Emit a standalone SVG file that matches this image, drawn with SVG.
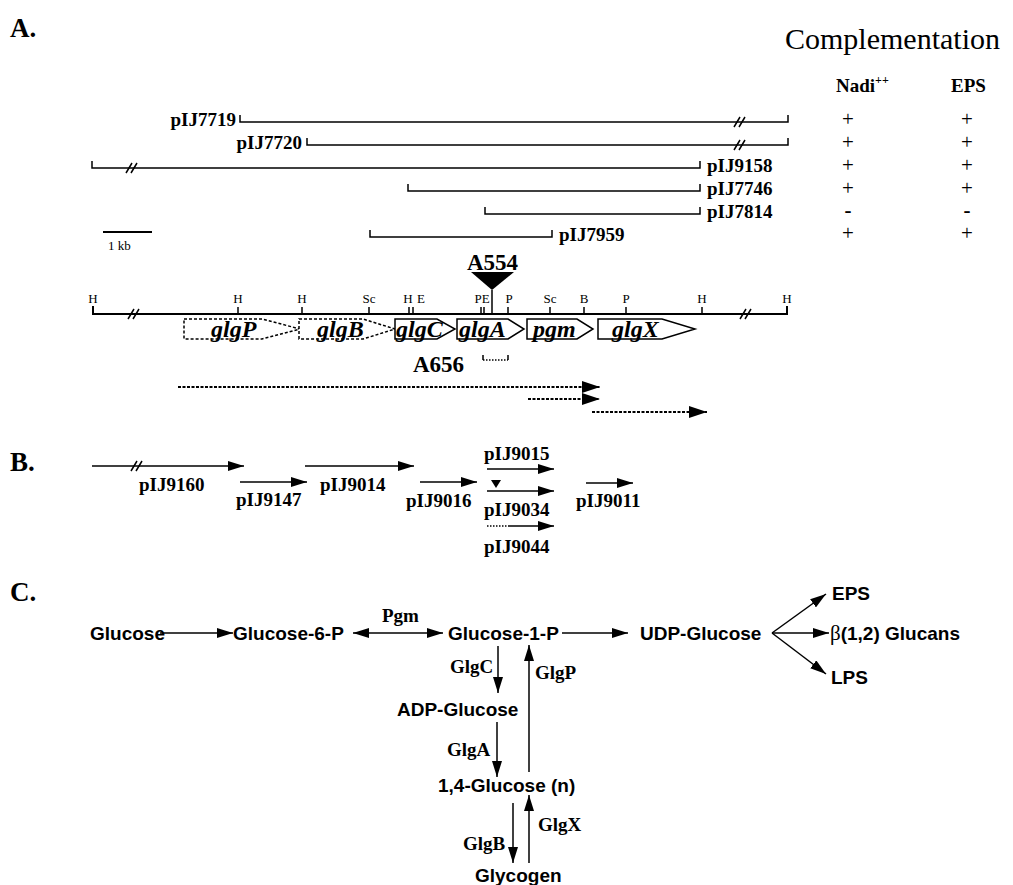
<svg xmlns="http://www.w3.org/2000/svg" width="1013" height="885" viewBox="0 0 1013 885">
<style>
text{fill:#000}
.sec{font-family:"Liberation Serif",serif;font-weight:bold;font-size:27px}
.lbl{font-family:"Liberation Serif",serif;font-weight:bold;font-size:19px}
.site{font-family:"Liberation Serif",serif;font-size:13px}
.gene{font-family:"Liberation Serif",serif;font-weight:bold;font-style:italic;font-size:24px}
.big{font-family:"Liberation Serif",serif;font-weight:bold;font-size:23px}
.pm{font-family:"Liberation Serif",serif;font-size:21px;text-anchor:middle}
.met{font-family:"Liberation Sans",sans-serif;font-weight:bold;font-size:19px}
.ln{stroke:#000;stroke-width:1.5;fill:none}
.map{stroke:#000;stroke-width:2;fill:none}
.dot{stroke:#000;stroke-width:2;fill:none;stroke-dasharray:3 1.5}
.gs{stroke:#000;stroke-width:1.5;fill:#fff}
.gd{stroke:#000;stroke-width:1.5;fill:#fff;stroke-dasharray:3 2}
</style>
<defs>
<marker id="a" viewBox="0 0 16 10" refX="16" refY="5" markerWidth="16" markerHeight="10" orient="auto-start-reverse" markerUnits="userSpaceOnUse"><path d="M0,0 L16,5 L0,10 z" fill="#000"/></marker>
<marker id="aL" viewBox="0 0 18 12" refX="18" refY="6" markerWidth="18" markerHeight="12" orient="auto" markerUnits="userSpaceOnUse"><path d="M0,0 L18,6 L0,12 z" fill="#000"/></marker>
</defs>

<g id="panelA-labels">
<text class="sec" x="10" y="37">A.</text>
<text x="785" y="49" style="font-family:'Liberation Serif',serif;font-size:30px">Complementation</text>
<text class="lbl" x="836" y="92">Nadi<tspan dy="-8" style="font-size:12px">++</tspan></text>
<text class="lbl" x="951" y="92">EPS</text>
</g>

<g id="plasmids-A">
<g id="pIJ7719"><path class="ln" d="M240,115 V122 H788 V115"/><path class="ln" d="M734,127 L740,117 M739,127 L745,117"/><text class="lbl" x="236" y="126" text-anchor="end">pIJ7719</text><text class="pm" x="848" y="126">+</text><text class="pm" x="967" y="126">+</text></g>
<g id="pIJ7720"><path class="ln" d="M307,138 V145 H788 V138"/><path class="ln" d="M734,150 L740,140 M739,150 L745,140"/><text class="lbl" x="302" y="149" text-anchor="end">pIJ7720</text><text class="pm" x="848" y="149">+</text><text class="pm" x="967" y="149">+</text></g>
<g id="pIJ9158"><path class="ln" d="M92,161 V168 H700 V161"/><path class="ln" d="M126,173 L132,163 M131,173 L137,163"/><text class="lbl" x="707" y="172">pIJ9158</text><text class="pm" x="848" y="172">+</text><text class="pm" x="967" y="172">+</text></g>
<g id="pIJ7746"><path class="ln" d="M408,184 V191 H700 V184"/><text class="lbl" x="707" y="195">pIJ7746</text><text class="pm" x="848" y="195">+</text><text class="pm" x="967" y="195">+</text></g>
<g id="pIJ7814"><path class="ln" d="M485,207 V214 H700 V207"/><text class="lbl" x="707" y="218">pIJ7814</text><text class="pm" x="848" y="217" style="font-weight:bold">-</text><text class="pm" x="967" y="217" style="font-weight:bold">-</text></g>
<g id="pIJ7959"><path class="ln" d="M370,230 V237 H552 V230"/><text class="lbl" x="559" y="241">pIJ7959</text><text class="pm" x="848" y="240">+</text><text class="pm" x="967" y="240">+</text></g>
<g id="scalebar"><path class="map" d="M103,232 H152"/><text class="site" x="108" y="250">1 kb</text></g>
</g>

<g id="map">
<g id="A554"><text class="big" x="467" y="270">A554</text><polygon points="471,272 514,272 492,290" fill="#000"/><path class="ln" d="M492,290 V314"/></g>
<path class="map" d="M93,306 V314 H787 V306"/>
<path class="ln" d="M128,319 L134,309 M133,319 L139,309 M740,319 L746,309 M745,319 L751,309"/>
<path class="ln" d="M238,307 V314 M302,307 V314 M369,307 V314 M409,307 V314 M413,307 V314 M481,307 V314 M484,307 V314 M508,307 V314 M550,307 V314 M584,307 V314 M626,307 V314 M702,307 V314"/>
<g class="site" text-anchor="middle">
<text x="93" y="303">H</text><text x="238" y="303">H</text><text x="302" y="303">H</text><text x="369" y="303">Sc</text><text x="408" y="303">H</text><text x="421" y="303">E</text><text x="482" y="303">PE</text><text x="509" y="303">P</text><text x="550" y="303">Sc</text><text x="584" y="303">B</text><text x="626" y="303">P</text><text x="702" y="303">H</text><text x="787" y="303">H</text>
</g>
</g>

<g id="genes">
<g id="glgP"><polygon class="gd" points="184,319 262,319 300,329 262,339 184,339"/><text class="gene" x="211" y="337">glgP</text></g>
<g id="glgB"><polygon class="gd" points="299,319 363,319 395,329 363,339 299,339"/><text class="gene" x="317" y="337">glgB</text></g>
<g id="glgC"><polygon class="gs" points="395,319 437,319 455,329 437,339 395,339"/><text class="gene" x="396" y="337">glgC</text></g>
<g id="glgA"><polygon class="gs" points="457,319 508,319 524,329 508,339 457,339"/><text class="gene" x="459" y="337">glgA</text></g>
<g id="pgm"><polygon class="gs" points="527,319 577,319 593,329 577,339 527,339"/><text class="gene" x="533" y="337">pgm</text></g>
<g id="glgX"><polygon class="gs" points="598,319 662,319 695,329 662,339 598,339"/><text class="gene" x="612" y="337">glgX</text></g>
<g id="A656"><text class="big" x="413" y="372">A656</text><path class="ln" d="M483,355 V360 M508,355 V360"/><path d="M483,360 H508" stroke="#000" stroke-width="1.5" stroke-dasharray="1.5 1.5"/></g>
</g>

<g id="connectors">
<path class="dot" d="M178,387 H600" marker-end="url(#aL)"/>
<path class="dot" d="M528,399 H600" marker-end="url(#aL)"/>
<path class="dot" d="M592,412 H707" marker-end="url(#aL)"/>

<path class="ln" d="M92,466 H244" marker-end="url(#a)"/>
<path class="ln" d="M131,471 L137,461 M136,471 L142,461"/>
<path class="ln" d="M240,482 H307" marker-end="url(#a)"/>
<path class="ln" d="M305,466 H414" marker-end="url(#a)"/>
<path class="ln" d="M420,482 H477" marker-end="url(#a)"/>
<path class="ln" d="M487,469 H554" marker-end="url(#a)"/>
<path class="ln" d="M487,491 H554" marker-end="url(#a)"/>
<path d="M487,526 H509" stroke="#000" stroke-width="1.5" stroke-dasharray="1.5 1.5"/>
<path class="ln" d="M509,526 H554" marker-end="url(#a)"/>
<path class="ln" d="M586,483 H633" marker-end="url(#a)"/>

<path class="ln" d="M160,633 H233" marker-end="url(#a)"/>
<path class="ln" d="M353,633 H443" marker-start="url(#a)" marker-end="url(#a)"/>
<path class="ln" d="M562,633 H628" marker-end="url(#a)"/>
<path class="ln" d="M772,633 L826,594" marker-end="url(#a)"/>
<path class="ln" d="M772,633 H829" marker-end="url(#a)"/>
<path class="ln" d="M772,633 L826,674" marker-end="url(#a)"/>
<path class="ln" d="M498,646 V693" marker-end="url(#a)"/>
<path class="ln" d="M529,772 V645" marker-end="url(#a)"/>
<path class="ln" d="M497,722 V777" marker-end="url(#a)"/>
<path class="ln" d="M513,803 V863" marker-end="url(#a)"/>
<path class="ln" d="M529,863 V795" marker-end="url(#a)"/>
</g>

<g id="panelB">
<text class="sec" x="10" y="471">B.</text>
<g id="pIJ9160"><text class="lbl" x="139" y="491">pIJ9160</text></g>
<g id="pIJ9147"><text class="lbl" x="236" y="506">pIJ9147</text></g>
<g id="pIJ9014"><text class="lbl" x="320" y="491">pIJ9014</text></g>
<g id="pIJ9016"><text class="lbl" x="406" y="507">pIJ9016</text></g>
<g id="pIJ9015"><text class="lbl" x="484" y="460">pIJ9015</text></g>
<g id="pIJ9034"><polygon points="491,480 501,480 496,488" fill="#000"/><text class="lbl" x="484" y="516">pIJ9034</text></g>
<g id="pIJ9044"><text class="lbl" x="484" y="553">pIJ9044</text></g>
<g id="pIJ9011"><text class="lbl" x="576" y="507">pIJ9011</text></g>
</g>

<g id="panelC">
<text class="sec" x="10" y="601">C.</text>
<g id="Glucose"><text class="met" x="90" y="640">Glucose</text></g>
<g id="Glucose-6-P"><text class="met" x="233" y="640">Glucose-6-P</text></g>
<g id="Glucose-1-P"><text class="met" x="448" y="640">Glucose-1-P</text></g>
<g id="UDP-Glucose"><text class="met" x="640" y="640">UDP-Glucose</text></g>
<g id="EPS"><text class="met" x="832" y="600">EPS</text></g>
<g id="Glucans"><text class="met" x="830" y="640"><tspan style="font-family:'Liberation Serif',serif;font-weight:normal;font-size:21px">β</tspan>(1,2) Glucans</text></g>
<g id="LPS"><text class="met" x="831" y="684">LPS</text></g>
<g id="ADP-Glucose"><text class="met" x="397" y="716">ADP-Glucose</text></g>
<g id="Glucose-n"><text class="met" x="438" y="792">1,4-Glucose (n)</text></g>
<g id="Glycogen"><text class="met" x="475" y="882">Glycogen</text></g>
<g id="enzymes">
<text class="lbl" x="382" y="622">Pgm</text>
<text class="lbl" x="450" y="673">GlgC</text>
<text class="lbl" x="535" y="679">GlgP</text>
<text class="lbl" x="447" y="756">GlgA</text>
<text class="lbl" x="463" y="850">GlgB</text>
<text class="lbl" x="538" y="831">GlgX</text>
</g>
</g>
</svg>
